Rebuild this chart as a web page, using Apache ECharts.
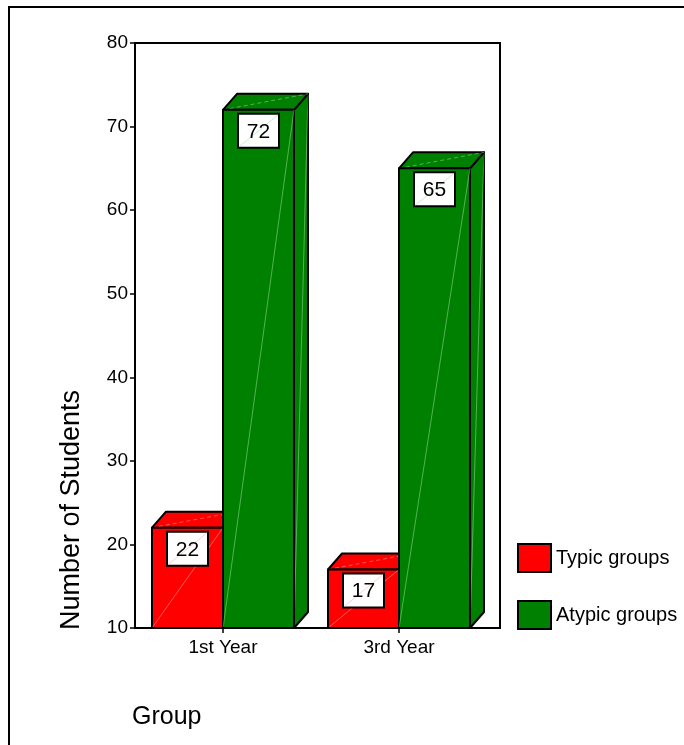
<!DOCTYPE html>
<html>
<head>
<meta charset="utf-8">
<script src="https://cdn.jsdelivr.net/npm/echarts@6/dist/echarts.min.js"></script>
<style>
  html, body { margin: 0; padding: 0; background: #fff; }
  #chart { width: 684px; height: 745px; }
</style>
</head>
<body>
<div id="chart"></div>
<script>
// Student counts per study year, split by group type
const categories = ['1st Year', '3rd Year'];
const typicValues = [22, 17];
const atypicValues = [72, 65];
const seriesNames = ['Typic groups', 'Atypic groups'];
const yTicks = [10, 20, 30, 40, 50, 60, 70, 80];

const FONT = 'Liberation Sans, Arial, sans-serif';
const RED = '#ff0000';
const GREEN = '#008000';
const DEPTH_X = 14, DEPTH_Y = 16;
const BAR_W = 71;

const chart = echarts.init(document.getElementById('chart'), null, { renderer: 'canvas' });

// One 3D box per data point: front face, top face, right side, plus a value tag
function box3d(side, color, faint) {
  return function (params, api) {
    const idx = api.value(0);
    const val = api.value(1);
    const top = api.coord([idx, val]);
    const base = api.coord([idx, yTicks[0]]);
    const cx = top[0];
    const x0 = side < 0 ? cx - BAR_W : cx;
    const x1 = side < 0 ? cx : cx + BAR_W;
    const yT = top[1], yB = base[1];
    const edge = { stroke: '#000', lineWidth: 2, lineJoin: 'round' };
    const faintLine = { stroke: faint, lineWidth: 1, opacity: 0.5 };
    const tagW = 41, tagH = 34;
    const tx = (x0 + x1) / 2 - tagW / 2, ty = yT + 4;
    return {
      type: 'group',
      children: [
        { type: 'polygon', shape: { points: [[x1, yT], [x1 + DEPTH_X, yT - DEPTH_Y], [x1 + DEPTH_X, yB - DEPTH_Y], [x1, yB]] },
          style: Object.assign({ fill: color }, edge) },
        { type: 'line', shape: { x1: x1, y1: yB, x2: x1 + DEPTH_X, y2: yT - DEPTH_Y }, style: faintLine },
        { type: 'polygon', shape: { points: [[x0, yT], [x0 + DEPTH_X, yT - DEPTH_Y], [x1 + DEPTH_X, yT - DEPTH_Y], [x1, yT]] },
          style: Object.assign({ fill: color }, edge) },
        { type: 'line', shape: { x1: x0, y1: yT, x2: x1 + DEPTH_X, y2: yT - DEPTH_Y }, style: Object.assign({ lineDash: [4, 3] }, faintLine) },
        { type: 'rect', shape: { x: x0, y: yT, width: x1 - x0, height: yB - yT },
          style: Object.assign({ fill: color }, edge) },
        { type: 'line', shape: { x1: x0, y1: yB, x2: x1, y2: yT }, style: faintLine },
        { type: 'rect', shape: { x: tx, y: ty, width: tagW, height: tagH },
          style: { fill: '#fff', stroke: '#000', lineWidth: 2 } },
        { type: 'line', shape: { x1: tx + 1, y1: ty + tagH - 1, x2: tx + tagW - 1, y2: ty + 1 },
          style: { stroke: faint, lineWidth: 1, opacity: 0.6 } },
        { type: 'text', style: { x: tx + tagW / 2, y: ty + tagH / 2 + 1, text: String(val),
          fill: '#000', font: '21px ' + FONT, align: 'center', verticalAlign: 'middle' } }
      ]
    };
  };
}

const option = {
  animation: false,
  backgroundColor: '#fff',
  grid: { left: 135, right: 197, top: 43, bottom: 117 },
  xAxis: {
    type: 'category',
    data: categories,
    axisLine: { show: false },
    axisTick: { show: true, alignWithLabel: true, length: 5, lineStyle: { color: '#000', width: 1.5 } },
    axisLabel: { color: '#000', fontFamily: FONT, fontSize: 19, margin: 10 }
  },
  yAxis: {
    type: 'value',
    min: yTicks[0],
    max: yTicks[yTicks.length - 1],
    interval: 10,
    splitLine: { show: false },
    axisLine: { show: false },
    axisTick: { show: true, length: 5, lineStyle: { color: '#000', width: 1.5 } },
    axisLabel: { color: '#000', fontFamily: FONT, fontSize: 19, margin: 7 }
  },
  legend: {
    orient: 'vertical',
    left: 517,
    top: 543,
    padding: 0,
    itemWidth: 33,
    itemHeight: 28,
    itemGap: 27,
    textStyle: { color: '#000', fontFamily: FONT, fontSize: 20, padding: [5, 0, 0, 0] },
    data: [
      { name: seriesNames[0], icon: 'rect', itemStyle: { color: RED, borderColor: '#000', borderWidth: 2 } },
      { name: seriesNames[1], icon: 'rect', itemStyle: { color: GREEN, borderColor: '#000', borderWidth: 2 } }
    ]
  },
  series: [
    {
      name: seriesNames[0],
      type: 'custom',
      itemStyle: { color: RED },
      renderItem: box3d(-1, RED, '#ffb0b0'),
      data: typicValues.map((v, i) => [i, v]),
      z: 2
    },
    {
      name: seriesNames[1],
      type: 'custom',
      itemStyle: { color: GREEN },
      renderItem: box3d(1, GREEN, '#a8e0a8'),
      data: atypicValues.map((v, i) => [i, v]),
      z: 3
    }
  ],
  graphic: [
    // outer page frame
    { type: 'rect', shape: { x: 9, y: 7, width: 700, height: 760 }, style: { fill: 'none', stroke: '#000', lineWidth: 2 }, z: 10 },
    // plot frame
    { type: 'rect', shape: { x: 135, y: 43, width: 365, height: 585 }, style: { fill: 'none', stroke: '#000', lineWidth: 2 }, z: 10 },
    { type: 'text', rotation: Math.PI / 2, x: 72, y: 510,
      style: { text: 'Number of Students', fill: '#000', font: '27px ' + FONT, align: 'center', verticalAlign: 'middle' } },
    { type: 'text', x: 132, y: 717,
      style: { text: 'Group', fill: '#000', font: '25px ' + FONT, align: 'left', verticalAlign: 'middle' } }
  ]
};

chart.setOption(option);
</script>
</body>
</html>
